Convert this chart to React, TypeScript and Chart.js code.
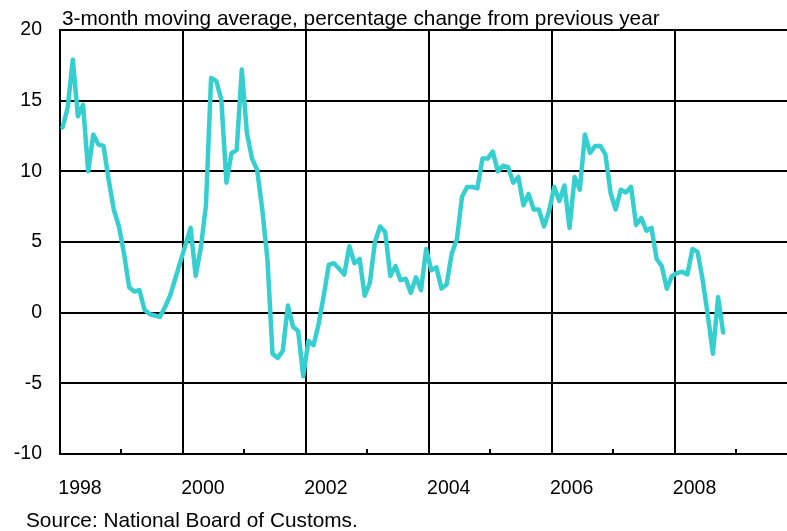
import React, { useEffect, useRef } from 'react';
import { Chart, registerables } from 'chart.js';

Chart.register(...registerables);

const START_YEAR = 1998;
const X_MAX = 2009.83;

// Monthly values, Jan 1998 .. Oct 2008 (3-month moving average, % y/y)
const values: number[] = [
  13.1, 14.5, 17.9, 13.9, 14.7, 10.0, 12.6, 11.9, 11.8, 9.4, 7.3, 6.1,
  4.2, 1.8, 1.5, 1.6, 0.2, -0.1, -0.2, -0.3, 0.4, 1.2, 2.4, 3.6,
  4.8, 6.0, 2.6, 4.6, 7.6, 16.6, 16.4, 15.1, 9.2, 11.3, 11.5, 17.2,
  12.7, 10.9, 10.1, 7.3, 3.8, -2.9, -3.2, -2.7, 0.5, -1.0, -1.3, -4.5,
  -2.0, -2.3, -0.8, 1.2, 3.4, 3.5, 3.1, 2.7, 4.7, 3.5, 3.8, 1.2,
  2.1, 5.0, 6.1, 5.7, 2.6, 3.3, 2.3, 2.4, 1.4, 2.5, 1.6, 4.5,
  3.0, 3.2, 1.7, 2.0, 4.2, 5.2, 8.2, 8.9, 8.9, 8.8, 10.9, 10.9,
  11.4, 10.0, 10.4, 10.3, 9.2, 9.6, 7.6, 8.4, 7.3, 7.3, 6.1, 7.2,
  8.9, 7.9, 9.0, 6.0, 9.6, 8.7, 12.6, 11.3, 11.8, 11.8, 11.2, 8.5,
  7.3, 8.7, 8.5, 8.9, 6.2, 6.7, 5.8, 6.0, 3.8, 3.3, 1.7, 2.6,
  2.8, 2.9, 2.7, 4.5, 4.3, 2.3, -0.2, -2.9, 1.1, -1.4,
];

const xTickYears: number[] = [1998, 1999, 2000, 2001, 2002, 2003, 2004, 2005, 2006, 2007, 2008, 2009];
const labeledYears: number[] = [1998, 2000, 2002, 2004, 2006, 2008];
const yTicks: number[] = [-10, -5, 0, 5, 10, 15, 20];

const TITLE = '3-month moving average, percentage change from previous year';
const SOURCE = 'Source: National Board of Customs.';

const FONT = "'Liberation Sans', Arial, sans-serif";

const minorTicksPlugin = {
  id: 'minorTicks',
  afterDraw(chart: any) {
    const xs = chart.scales.x;
    const { bottom } = chart.chartArea;
    const ctx = chart.ctx;
    ctx.save();
    ctx.strokeStyle = '#000';
    ctx.lineWidth = 2;
    ctx.beginPath();
    xTickYears.forEach((yr) => {
      if (labeledYears.includes(yr)) return;
      const px = Math.round(xs.getPixelForValue(yr));
      ctx.moveTo(px, bottom);
      ctx.lineTo(px, bottom - 5);
    });
    ctx.stroke();
    ctx.restore();
  },
};

const textStyle: React.CSSProperties = {
  position: 'absolute',
  fontFamily: FONT,
  fontSize: '20.8px',
  lineHeight: '20.8px',
  color: '#000',
  whiteSpace: 'nowrap',
  margin: 0,
};

export default function App() {
  const ref = useRef<HTMLCanvasElement | null>(null);

  useEffect(() => {
    if (!ref.current) return;
    const points = values.map((v, i) => ({ x: START_YEAR + (i + 0.5) / 12, y: v }));
    const chart = new Chart(ref.current, {
      type: 'line',
      data: {
        datasets: [
          {
            data: points,
            borderColor: '#36cfcf',
            borderWidth: 4.5,
            borderJoinStyle: 'round',
            borderCapStyle: 'round',
            pointRadius: 0,
            tension: 0,
            fill: false,
          },
        ],
      },
      options: {
        animation: false,
        responsive: false,
        layout: { padding: { left: 0, right: 0, top: 30, bottom: 21 } },
        plugins: {
          legend: { display: false },
          tooltip: { enabled: false },
          title: { display: false },
        },
        scales: {
          x: {
            type: 'linear',
            min: START_YEAR,
            max: X_MAX,
            afterBuildTicks: (scale: any) => {
              scale.ticks = xTickYears.map((v) => ({ value: v }));
            },
            afterFit: (scale: any) => {
              scale.height = 56;
            },
            grid: {
              color: (c: any) => (labeledYears.includes(c.tick?.value) ? '#000' : 'rgba(0,0,0,0)'),
              lineWidth: 2,
              drawTicks: false,
            },
            border: { color: '#000', width: 2 },
            ticks: {
              autoSkip: false,
              maxRotation: 0,
              padding: 23,
              labelOffset: 20,
              color: '#000',
              font: { family: FONT, size: 19.5 },
              callback: (v: any) => (labeledYears.includes(Number(v)) ? String(v) : ''),
            },
          },
          y: {
            min: -10,
            max: 20,
            afterBuildTicks: (scale: any) => {
              scale.ticks = yTicks.map((v) => ({ value: v }));
            },
            afterFit: (scale: any) => {
              scale.width = 60;
            },
            grid: { color: '#000', lineWidth: 2, drawTicks: false },
            border: { color: '#000', width: 2 },
            ticks: {
              padding: 18,
              color: '#000',
              font: { family: FONT, size: 19.5 },
            },
          },
        },
      },
      plugins: [minorTicksPlugin],
    });
    return () => chart.destroy();
  }, []);

  return (
    <div style={{ position: 'absolute', left: 0, top: 0, width: 787, height: 531, background: '#fff', overflow: 'hidden' }}>
      <canvas ref={ref} width={787} height={531} style={{ width: 787, height: 531, display: 'block' }} />
      <div style={{ ...textStyle, left: 62, top: 8.4 }}>{TITLE}</div>
      <div style={{ ...textStyle, left: 26, top: 510 }}>{SOURCE}</div>
    </div>
  );
}
